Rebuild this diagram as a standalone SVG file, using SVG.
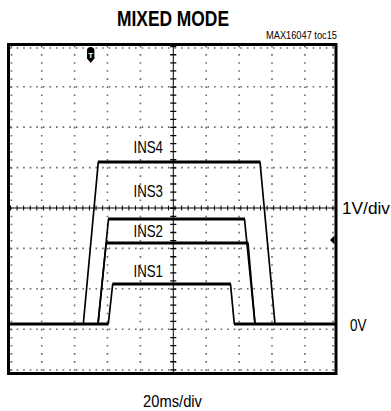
<svg xmlns="http://www.w3.org/2000/svg" width="391" height="411" viewBox="0 0 391 411">
<style>
.t{font-family:"Liberation Sans Narrow","Liberation Sans",Arial,sans-serif;fill:#000}
.lab{font-size:17px}
.gh{stroke:#666;stroke-width:1.6;stroke-dasharray:1.6 4.98;fill:none}
.gv{stroke:#666;stroke-width:1.6;stroke-dasharray:1.6 6.48;fill:none}
.tr{fill:none;stroke:#000;stroke-width:1.7;stroke-linejoin:round}
.flat{fill:none;stroke:#000;stroke-width:3.2;stroke-linecap:butt}
</style>
<rect width="391" height="411" fill="#fff"/>
<g id="title">
<text class="t" x="173" y="25.5" font-size="22" font-weight="bold" text-anchor="middle" textLength="112" lengthAdjust="spacingAndGlyphs">MIXED MODE</text>
<text class="t" x="266" y="39" font-size="10.5" textLength="71" lengthAdjust="spacingAndGlyphs">MAX16047 toc15</text>
</g>
<g id="grid">
<line class="gh" x1="10" y1="86.7" x2="335" y2="86.7"/>
<line class="gh" x1="10" y1="127.1" x2="335" y2="127.1"/>
<line class="gh" x1="10" y1="167.6" x2="335" y2="167.6"/>
<line class="gh" x1="10" y1="248.4" x2="335" y2="248.4"/>
<line class="gh" x1="10" y1="288.8" x2="335" y2="288.8"/>
<line class="gh" x1="10" y1="329.2" x2="335" y2="329.2"/>
<line class="gh" x1="10" y1="48" x2="335" y2="48"/>
<line class="gh" x1="10" y1="370" x2="335" y2="370"/>
<line class="gv" x1="41.7" y1="46" x2="41.7" y2="372"/>
<line class="gv" x1="74.6" y1="46" x2="74.6" y2="372"/>
<line class="gv" x1="107.5" y1="46" x2="107.5" y2="372"/>
<line class="gv" x1="140.4" y1="46" x2="140.4" y2="372"/>
<line class="gv" x1="206.2" y1="46" x2="206.2" y2="372"/>
<line class="gv" x1="239.1" y1="46" x2="239.1" y2="372"/>
<line class="gv" x1="272" y1="46" x2="272" y2="372"/>
<line class="gv" x1="304.9" y1="46" x2="304.9" y2="372"/>
<line class="gv" x1="11.5" y1="46" x2="11.5" y2="372"/>
<line class="gv" x1="333" y1="46" x2="333" y2="372"/>
<line x1="10" y1="208" x2="335" y2="208" stroke="#000" stroke-width="1"/>
<line x1="10" y1="208" x2="335" y2="208" stroke="#000" stroke-width="5" stroke-dasharray="1 5.58"/>
<line x1="173.3" y1="46" x2="173.3" y2="372" stroke="#000" stroke-width="1"/>
<line x1="173.3" y1="46" x2="173.3" y2="372" stroke="#000" stroke-width="6" stroke-dasharray="1.3 6.78"/>
</g>
<g id="frame">
<rect x="8.5" y="44.5" width="327.5" height="329" fill="none" stroke="#000" stroke-width="3"/>
</g>
<g id="markers">
<path d="M87 50.5Q87 47 90.7 47Q94.4 47 94.4 50.5L94.4 58.5L90.7 63L87 58.5Z" fill="#000"/>
<text class="t" x="90.7" y="57.5" font-size="8" font-weight="bold" fill="#fff" style="fill:#fff" text-anchor="middle">T</text>
<path d="M330 240L334.5 235.5L334.5 244.5Z" fill="#000"/>
</g>
<g id="traces">
<path class="tr" d="M83.3 324L98.3 162M260 162L275 324"/>
<path class="tr" d="M98 324L108.5 219M244.5 219L255 324"/>
<path class="tr" d="M98 324L106.2 243M248 243L255 324"/>
<path class="tr" d="M108.3 324L112.7 284M230.5 284L234.3 324"/>
<line class="flat" x1="10" y1="324" x2="108.5" y2="324"/>
<line class="flat" x1="234" y1="324" x2="335" y2="324"/>
<line class="flat" x1="97.8" y1="162" x2="260.5" y2="162"/>
<line class="flat" x1="108" y1="219" x2="245" y2="219"/>
<line class="flat" x1="105.8" y1="243" x2="248.4" y2="243"/>
<line class="flat" x1="112.3" y1="284" x2="231" y2="284"/>
</g>
<g id="labels">
<text class="t lab" x="133.5" y="153" textLength="29.5" lengthAdjust="spacingAndGlyphs">INS4</text>
<text class="t lab" x="133.5" y="197" textLength="29.5" lengthAdjust="spacingAndGlyphs">INS3</text>
<text class="t lab" x="133.5" y="237" textLength="29.5" lengthAdjust="spacingAndGlyphs">INS2</text>
<text class="t lab" x="133.5" y="277" textLength="29.5" lengthAdjust="spacingAndGlyphs">INS1</text>
<text class="t" x="342" y="214" font-size="16.5" textLength="48" lengthAdjust="spacingAndGlyphs">1V/div</text>
<text class="t" x="350" y="331" font-size="17" textLength="16.5" lengthAdjust="spacingAndGlyphs">0V</text>
<text class="t" x="143" y="407" font-size="17" textLength="59" lengthAdjust="spacingAndGlyphs">20ms/div</text>
</g>
</svg>
